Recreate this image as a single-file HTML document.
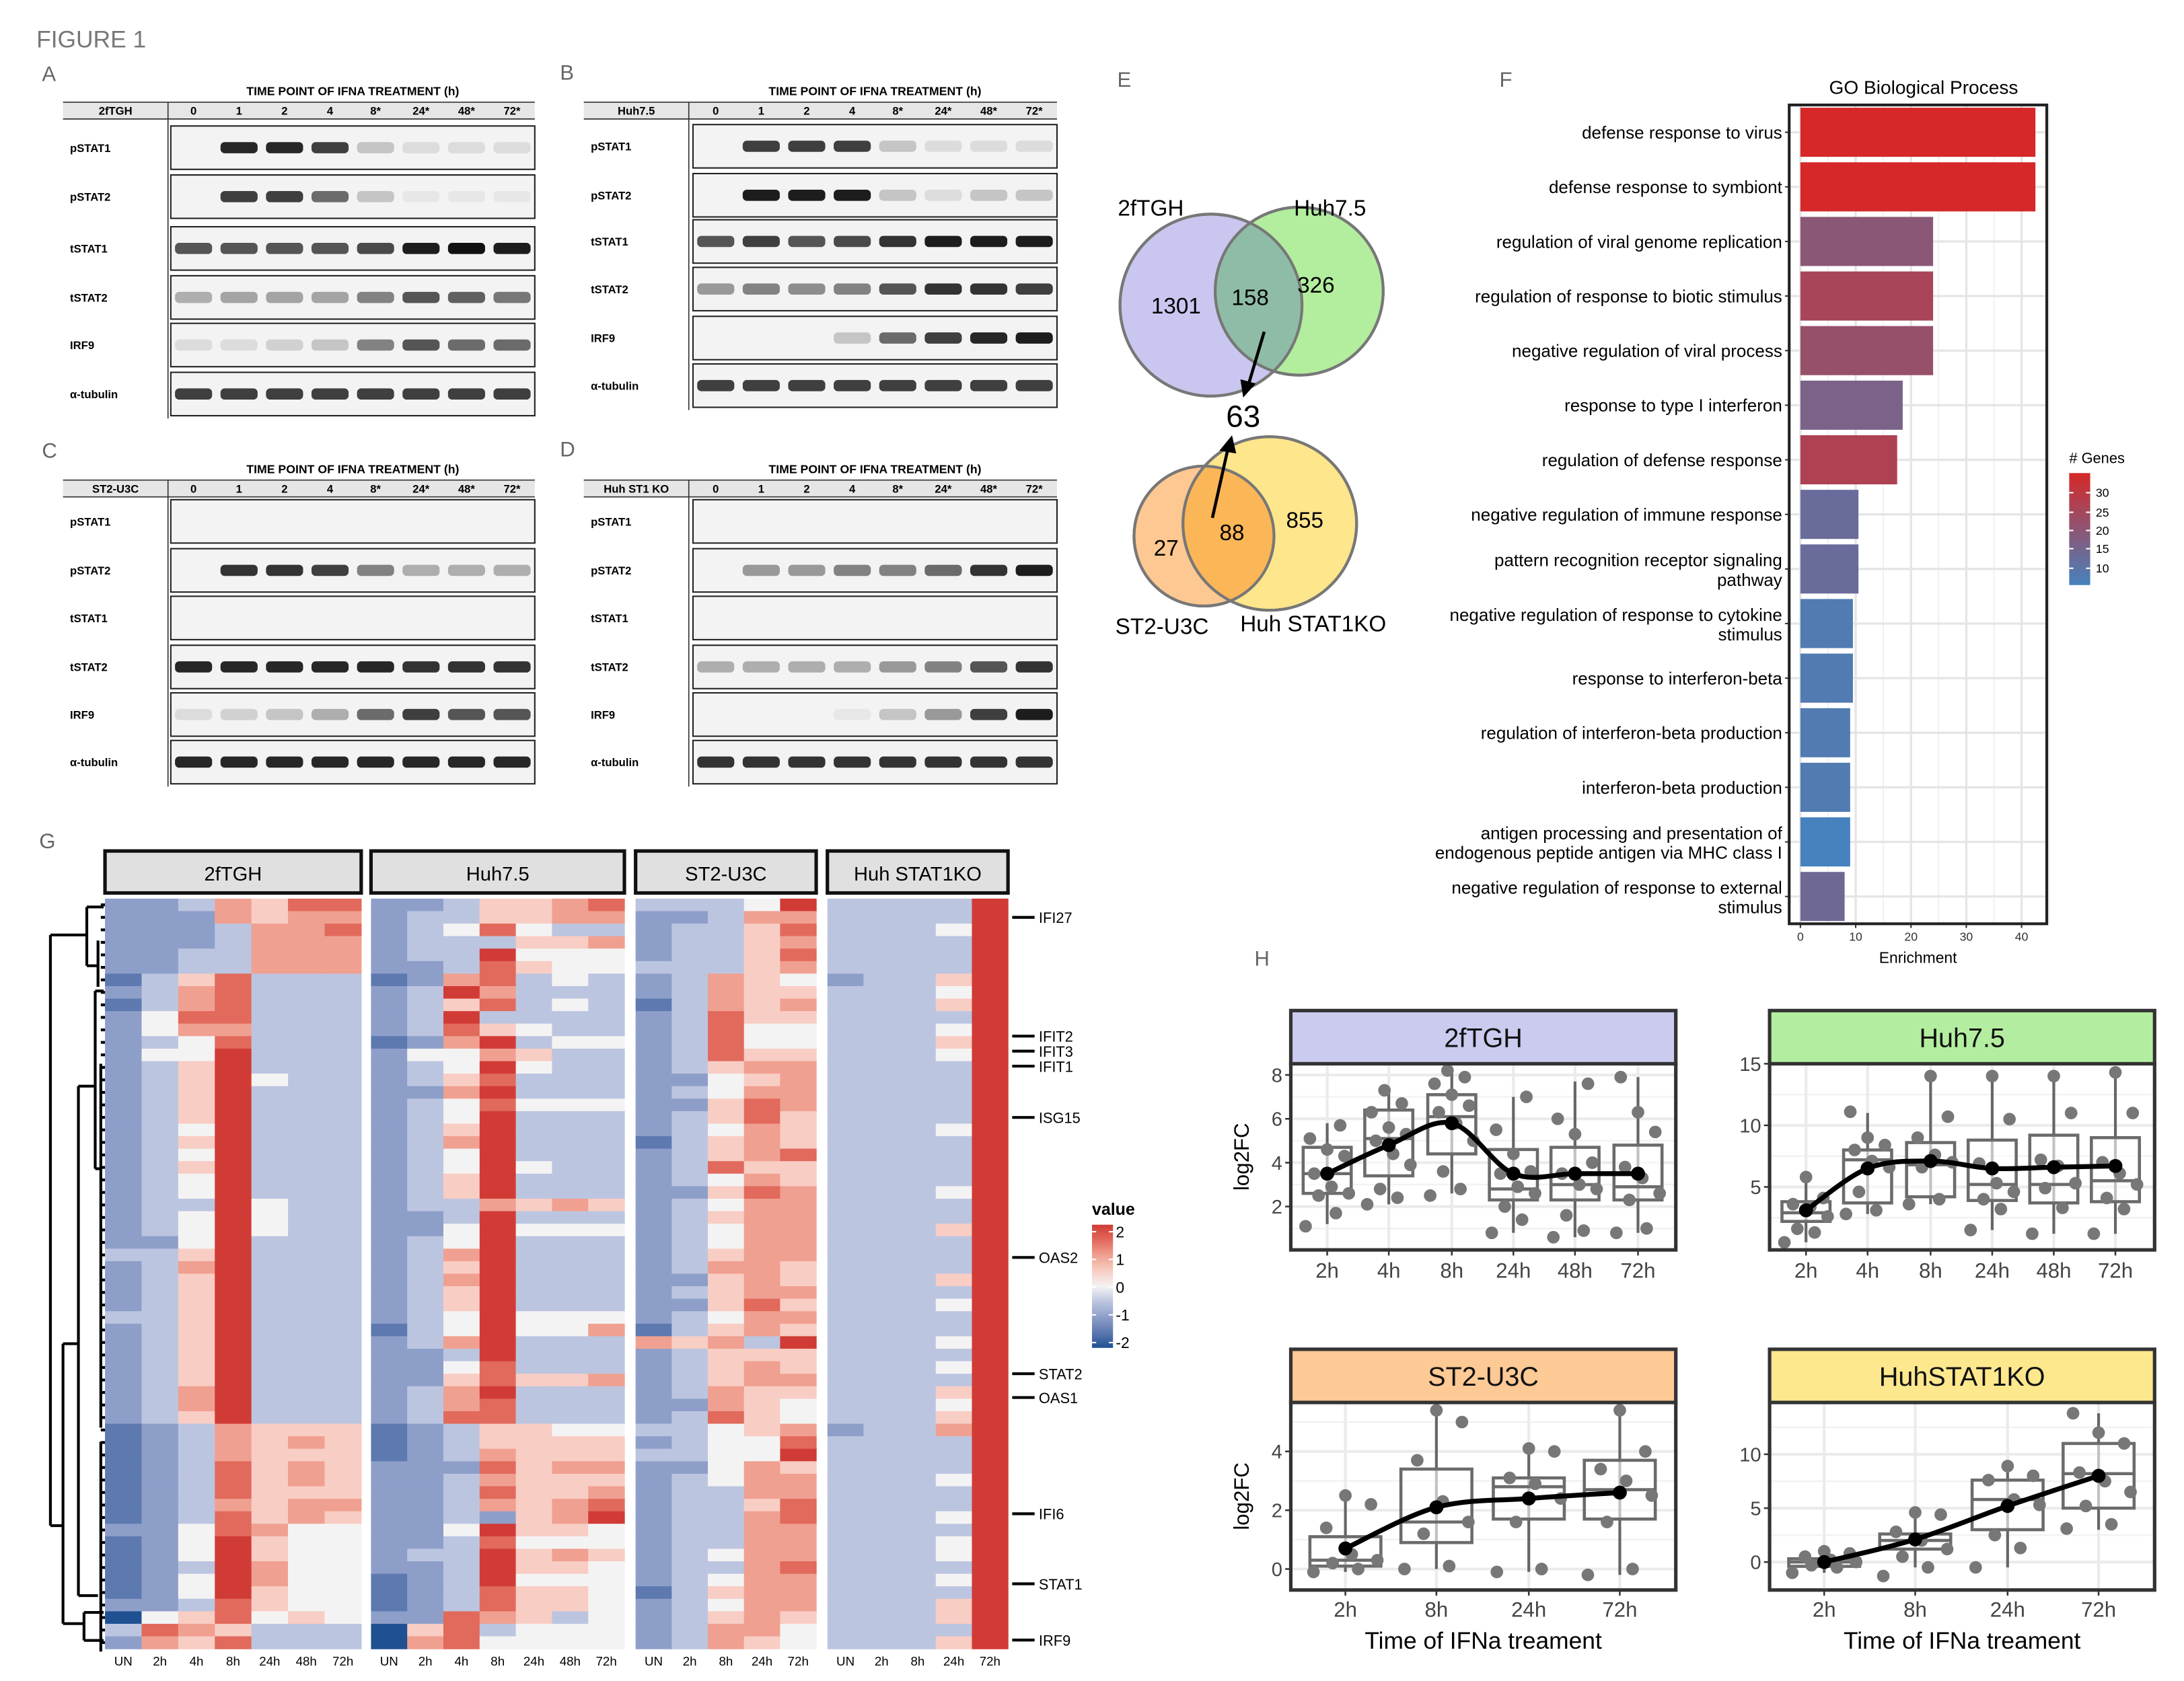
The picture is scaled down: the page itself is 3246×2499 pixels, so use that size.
<!DOCTYPE html>
<html><head><meta charset="utf-8"><style>
html,body{margin:0;padding:0;background:#fff}
svg{display:block}
text{font-family:"Liberation Sans Narrow","Liberation Sans",sans-serif}
</style></head><body>
<svg id="fig" width="3246" height="2499" viewBox="0 0 1560 1201" xmlns="http://www.w3.org/2000/svg">
<text x="26" y="34" font-size="17" fill="#777">FIGURE 1</text>
<g id="blots"></g>
<g id="venn"></g>
<g id="go"></g>
<g id="heat"></g>
<g id="box"></g>
</svg>
<script>
// ---------- DATA ----------
const laneLabels=["0","1","2","4","8*","24*","48*","72*"];
const blotRows=["pSTAT1","pSTAT2","tSTAT1","tSTAT2","IRF9","α-tubulin"];
const blotA=[[0,.9,.9,.8,.2,.1,.1,.1],[0,.8,.8,.6,.2,.05,.05,.05],[.7,.7,.7,.7,.75,.95,1,.95],[.3,.35,.35,.35,.5,.7,.65,.55],[.1,.1,.15,.2,.5,.7,.6,.6],[.8,.8,.8,.8,.8,.8,.8,.8]];
const blotB=[[0,.8,.8,.8,.2,.1,.1,.1],[0,.95,.95,.95,.2,.1,.2,.2],[.7,.8,.7,.75,.85,.95,.95,.95],[.4,.5,.45,.5,.7,.85,.85,.8],[0,0,0,.2,.6,.8,.9,.95],[.8,.8,.8,.8,.8,.8,.8,.8]];
const blotC=[[0,0,0,0,0,0,0,0],[0,.85,.85,.8,.5,.3,.3,.3],[0,0,0,0,0,0,0,0],[.9,.9,.9,.9,.9,.85,.85,.85],[.1,.15,.2,.3,.6,.8,.7,.7],[.9,.9,.9,.9,.9,.9,.9,.9]];
const blotD=[[0,0,0,0,0,0,0,0],[0,.4,.4,.5,.5,.6,.85,.95],[0,0,0,0,0,0,0,0],[.3,.3,.3,.3,.4,.5,.7,.85],[0,0,0,.05,.2,.4,.8,.95],[.85,.85,.85,.85,.85,.85,.85,.85]];

const goTerms=[["defense response to virus"],["defense response to symbiont"],["regulation of viral genome replication"],["regulation of response to biotic stimulus"],["negative regulation of viral process"],["response to type I interferon"],["regulation of defense response"],["negative regulation of immune response"],["pattern recognition receptor signaling","pathway"],["negative regulation of response to cytokine","stimulus"],["response to interferon-beta"],["regulation of interferon-beta production"],["interferon-beta production"],["antigen processing and presentation of","endogenous peptide antigen via MHC class I"],["negative regulation of response to external","stimulus"]];
const goEnrich=[42.5,42.5,24,24,24,18.5,17.5,10.5,10.5,9.5,9.5,9,9,9,8];
const goGenes=[33,33,20,25,22,17,26,14,14,10,10,10,10,8,15];
const goTicks=[0,10,20,30,40];

const heatGroups=["2fTGH","Huh7.5","ST2-U3C","Huh STAT1KO"];
const heatCols=[["UN","2h","4h","8h","24h","48h","72h"],["UN","2h","4h","8h","24h","48h","72h"],["UN","2h","8h","24h","72h"],["UN","2h","8h","24h","72h"]];
const heatRows=["2236577|2235567|33348|33338","2226566|2335566|22366|33338","2223667|2347433|23357|33348","2223666|2333556|23356|33338","2233666|2338444|23357|33338","2233666|2237544|33356|33338","1357333|1267343|23654|23358","2367333|2386333|23655|33348","1367333|2357343|13656|33358","2477333|2383333|23755|33338","2466333|2375433|23744|33348","2347333|1268344|23744|33358","2448333|2446533|23755|33348","2358333|2348433|23566|33338","2358433|2357333|22456|33338","2358333|2268333|23466|33338","2358333|2347444|22576|33338","2358333|2348333|23575|33338","2348333|2358333|23465|33348","2358333|2368333|13565|33338","2348333|2348333|23567|33338","2358333|2348433|23755|33338","2348333|2358333|23465|33338","2348333|2358333|22576|33348","2338433|2336565|23466|33338","2348433|2238333|23566|33338","2348433|2248444|23466|33358","2248333|2348333|23466|33338","3358333|2368333|23566|33338","2368333|2358333|23665|33338","2358333|2368333|22565|33358","2358333|2358333|23566|33338","2358333|2358333|22575|33348","3358333|2348444|23466|33338","2358333|1348446|13565|33338","2358333|2368333|65638|33348","2358333|2238333|23555|33338","2358333|2247333|23565|33348","2358333|2257556|23566|33338","2368333|2368333|23655|33358","2368333|2367333|22654|33348","2358333|2377333|23754|33358","1236555|1235544|33456|23368","1236565|1235555|23447|33338","1236555|1236555|33448|33338","1237565|2227566|22465|33338","1237565|2236555|23466|33348","1237555|2237556|23366|33338","1236566|2236567|23357|33338","1237565|2232568|23367|33348","2247644|2248554|23366|33338","1248544|2237444|23366|33348","1248544|2338565|23466|33348","1238644|2238554|23367|33338","1248644|1238444|23466|33348","1248544|1237554|13566|33338","2237544|1237554|23466|33358","0457454|2276534|23565|33358","3765333|0573444|23664|33338","2657333|0674444|23654|33358"];
const geneLabels=["IFI27","IFIT2","IFIT3","IFIT1","ISG15","OAS2","STAT2","OAS1","IFI6","STAT1","IRF9"];
const geneRowIdx=[1,10.5,11.7,12.9,17,28.2,37.5,39.4,48.7,54.3,58.8];

const boxTitles=["2fTGH","Huh7.5","ST2-U3C","HuhSTAT1KO"];
const boxCats=[["2h","4h","8h","24h","48h","72h"],["2h","4h","8h","24h","48h","72h"],["2h","8h","24h","72h"],["2h","8h","24h","72h"]];
const boxStats=[
 [[2.6,3.5,4.7,1.2,5.8],[3.4,5.1,6.4,2.1,7.3],[4.4,6.1,7.1,2.6,8.2],[2.3,2.8,4.6,0.8,7.0],[2.3,3.0,4.7,0.6,7.7],[2.3,2.9,4.8,0.8,7.9]],
 [[2.2,2.9,3.8,0.5,5.8],[3.7,7.2,8.0,2.8,11],[4.2,6.8,8.6,3.6,14],[3.9,5.2,8.8,1.5,14],[3.7,5.2,9.2,1.2,14],[3.8,5.5,9.0,1.2,14.3]],
 [[0.1,0.3,1.1,-0.1,2.3],[0.9,1.6,3.4,0,5.4],[1.7,2.8,3.1,-0.1,4.1],[1.7,2.7,3.7,-0.2,5.4]],
 [[-0.4,0,0.3,-1,1],[1.2,2,2.6,-0.5,4.5],[3,5.8,7.6,-0.5,8.9],[5,8.2,11,3,13.8]]];
const boxMeans=[[3.5,4.8,5.8,3.5,3.5,3.5],[3.1,6.5,7.1,6.5,6.6,6.7],[0.7,2.1,2.4,2.6],[0,2.1,5.2,8]];
const boxPoints=[
 [[1.1,1.7,2.5,2.6,2.9,3.5,4.3,4.6,5.1,5.7],[2.1,2.4,2.8,3.9,4.4,5.0,5.3,5.6,6.3,6.7,7.3],[2.5,2.8,3.6,5.0,5.8,6.3,6.6,7.1,7.6,7.9,8.2],[0.8,1.4,2.0,2.6,2.9,3.5,3.6,4.4,5.5,7.0],[0.6,0.9,1.6,2.8,3.0,3.5,4.0,5.3,6.0,7.6],[0.8,1.0,2.3,2.6,3.3,3.8,5.4,6.3,7.9]],
 [[0.5,1.3,1.6,2.6,3.4,3.6,4.1,5.8],[2.8,3.1,4.6,6.6,7.1,8.0,8.4,9.0,11.1],[3.6,4.0,6.6,7.0,7.6,9.0,10.7,14.0],[1.5,3.2,4.0,4.6,5.3,6.9,10.5,14.0],[1.2,3.3,4.9,5.3,6.7,7.2,11.0,14.0],[1.2,3.2,4.1,5.2,6.1,7.0,11.0,14.3]],
 [[-0.1,0,0.2,0.3,0.5,1.4,2.2,2.5],[0,0.1,1.2,1.6,2.3,3.7,5.0,5.4],[-0.1,0,1.6,2.4,2.9,3.1,4.0,4.1],[-0.2,0,1.6,2.5,3.0,3.4,4.0,5.4]],
 [[-1,-0.5,-0.3,0,0.2,0.5,0.8,1],[-1.3,-0.5,0.5,1.2,2.0,2.8,4.4,4.6],[-0.5,1.3,2.5,5.3,5.8,7.6,8.0,8.9],[3.1,3.5,5.2,6.5,7.5,8.3,11.0,12.0,13.8]]];

// ---------- HELPERS ----------
const NS="http://www.w3.org/2000/svg";
function mk(parent,tag,attrs,txt){const e=document.createElementNS(NS,tag);for(const k in attrs)e.setAttribute(k,attrs[k]);if(txt!==undefined)e.textContent=txt;parent.appendChild(e);return e;}
const $=id=>document.getElementById(id);

// ---------- BLOTS ----------
(function(){
 const g=$("blots");
 const panels=[
  {L:"A",lx:30,ly:58,title:"2fTGH",x0:45,lab:120,bx:122,bw:260,hy:73,rows:[90,125,162,197,231,266],rh:31,d:blotA},
  {L:"B",lx:400,ly:57,title:"Huh7.5",x0:417,lab:492,bx:495,bw:260,hy:73,rows:[89,124,157,191,226,260],rh:31,d:blotB},
  {L:"C",lx:30,ly:327,title:"ST2-U3C",x0:45,lab:120,bx:122,bw:260,hy:343,rows:[357,392,426,461,495,529],rh:31,d:blotC},
  {L:"D",lx:400,ly:326,title:"Huh ST1 KO",x0:417,lab:492,bx:495,bw:260,hy:343,rows:[357,392,426,461,495,529],rh:31,d:blotD}];
 panels.forEach(p=>{
  const pg=mk(g,"g",{});
  
  
  mk(pg,"text",{x:p.lx,y:p.ly,"font-size":15,fill:"#666"},p.L);
  mk(pg,"text",{x:p.bx+130,y:p.hy-5,"font-size":8.5,"font-weight":"bold","text-anchor":"middle"},"TIME POINT OF IFNA TREATMENT (h)");
  mk(pg,"rect",{x:p.x0,y:p.hy,width:p.bx+p.bw-p.x0,height:12,fill:"#e6e6e6"});
  mk(pg,"line",{x1:p.x0,x2:p.bx+p.bw,y1:p.hy,y2:p.hy,stroke:"#333","stroke-width":0.8});
  mk(pg,"line",{x1:p.x0,x2:p.bx+p.bw,y1:p.hy+12,y2:p.hy+12,stroke:"#333","stroke-width":0.8});
  mk(pg,"line",{x1:p.lab,x2:p.lab,y1:p.hy,y2:p.rows[5]+p.rh+2,stroke:"#333","stroke-width":0.8});
  mk(pg,"text",{x:(p.x0+p.lab)/2,y:p.hy+9,"font-size":8,"font-weight":"bold","text-anchor":"middle"},p.title);
  const lw=p.bw/8;
  laneLabels.forEach((l,i)=>mk(pg,"text",{x:p.bx+lw*(i+.5),y:p.hy+9,"font-size":8,"font-weight":"bold","text-anchor":"middle"},l));
  blotRows.forEach((r,ri)=>{
   const y=p.rows[ri];
   mk(pg,"text",{x:p.x0+5,y:y+p.rh/2+3,"font-size":8,"font-weight":"bold"},r);
   const box=mk(pg,"rect",{x:p.bx,y:y,width:p.bw,height:p.rh,fill:"#f3f3f3",stroke:"#222","stroke-width":1});
   
   
   p.d[ri].forEach((v,li)=>{
    if(v<=0)return;
    const b=mk(pg,"rect",{x:p.bx+lw*li+3,y:y+p.rh/2-4,width:lw-6,height:8,rx:3,fill:"#111","fill-opacity":v});
    
    
   });
  });
 });
})();

// ---------- VENN ----------
(function(){
 const g=$("venn");
 mk(g,"text",{x:798,y:62,"font-size":15,fill:"#666"},"E");
 const defs=mk(g,"defs",{});
 const c1=mk(defs,"clipPath",{id:"c1"});mk(c1,"circle",{cx:865,cy:218,r:65});
 const c2=mk(defs,"clipPath",{id:"c2"});mk(c2,"circle",{cx:860,cy:383,r:50});
 mk(g,"circle",{cx:865,cy:218,r:65,fill:"#c9c7ef",stroke:"#777","stroke-width":2});
 mk(g,"circle",{cx:928,cy:208,r:60,fill:"#b2ee9e",stroke:"#777","stroke-width":2});
 mk(g,"circle",{cx:928,cy:208,r:60,fill:"#8fbca7","clip-path":"url(#c1)"});
 mk(g,"circle",{cx:865,cy:218,r:65,fill:"none",stroke:"#777","stroke-width":2});
 mk(g,"circle",{cx:928,cy:208,r:60,fill:"none",stroke:"#777","stroke-width":2});
 mk(g,"circle",{cx:860,cy:383,r:50,fill:"#fdc891",stroke:"#777","stroke-width":2});
 mk(g,"circle",{cx:907,cy:374,r:62,fill:"#fde68b",stroke:"#777","stroke-width":2});
 mk(g,"circle",{cx:907,cy:374,r:62,fill:"#fbb658","clip-path":"url(#c2)"});
 mk(g,"circle",{cx:860,cy:383,r:50,fill:"none",stroke:"#777","stroke-width":2});
 mk(g,"circle",{cx:907,cy:374,r:62,fill:"none",stroke:"#777","stroke-width":2});
 const t=(x,y,s,str,n)=>{const e=mk(g,"text",{x:x,y:y,"font-size":s,"text-anchor":"middle"},str);};
 t(822,154,16,"2fTGH","venn-label-2ftgh");t(950,154,16,"Huh7.5","venn-label-huh75");
 t(840,224,16,"1301","venn-count");t(893,218,16,"158","venn-count");t(940,209,16,"326","venn-count");
 t(888,305,22,"63","venn-count-63");
 t(833,397,16,"27","venn-count");t(880,386,16,"88","venn-count");t(932,377,16,"855","venn-count");
 t(830,453,16,"ST2-U3C","venn-label-st2");t(938,451,16,"Huh STAT1KO","venn-label-ko");
 mk(g,"line",{x1:903,y1:237,x2:892,y2:274,stroke:"#000","stroke-width":2.2});
 mk(g,"polygon",{points:"888,284 886,271 897,274",fill:"#000"});
 mk(g,"line",{x1:866,y1:370,x2:877,y2:321,stroke:"#000","stroke-width":2.2});
 mk(g,"polygon",{points:"880,311 871,322 883,324",fill:"#000"});
})();

// ---------- GO BAR CHART ----------
(function(){
 const g=$("go");
 mk(g,"text",{x:1071,y:62,"font-size":15,fill:"#666"},"F");
 const px0=1278,px1=1462,py0=75,py1=660;
 const xs=v=>1286+v*3.95;
 const n=goTerms.length,step=(py1-py0)/n;
 const col=gn=>{const t=Math.max(0,Math.min(1,(gn-8)/(33-8)));const a=[70,130,190],b=[214,40,40];
  const m=[0,1,2].map(i=>Math.round(a[i]+(b[i]-a[i])*t));return "rgb("+m.join(",")+")";};
 mk(g,"text",{x:1374,y:67,"font-size":13.5,"text-anchor":"middle"},"GO Biological Process");
 mk(g,"rect",{x:px0,y:py0,width:px1-px0,height:py1-py0,fill:"#fff"});
 goTicks.forEach(v=>{mk(g,"line",{x1:xs(v),x2:xs(v),y1:py0,y2:py1,stroke:"#e5e5e5","stroke-width":1.6});
  mk(g,"line",{x1:xs(v+5),x2:xs(v+5),y1:py0,y2:py1,stroke:"#eee","stroke-width":0.8});
  mk(g,"text",{x:xs(v),y:py1+12,"font-size":8.5,"text-anchor":"middle",fill:"#333"},v);
  mk(g,"line",{x1:xs(v),x2:xs(v),y1:py1,y2:py1+3,stroke:"#333"});});
 goTerms.forEach((t,i)=>{
  const cy=py0+step*(i+.5);
  mk(g,"line",{x1:px0,x2:px1,y1:cy,y2:cy,stroke:"#e5e5e5","stroke-width":1.6});
  const r=mk(g,"rect",{x:xs(0),y:cy-step*0.45,width:xs(goEnrich[i])-xs(0),height:step*0.9,fill:col(goGenes[i])});
  
  
  if(t.length===1)mk(g,"text",{x:1273,y:cy+4.5,"font-size":12.5,"text-anchor":"end"},t[0]);
  else{mk(g,"text",{x:1273,y:cy-2,"font-size":12.5,"text-anchor":"end"},t[0]);mk(g,"text",{x:1273,y:cy+12,"font-size":12.5,"text-anchor":"end"},t[1]);}
  mk(g,"line",{x1:px0-3,x2:px0,y1:cy,y2:cy,stroke:"#333"});
 });
 mk(g,"rect",{x:px0,y:py0,width:px1-px0,height:py1-py0,fill:"none",stroke:"#222","stroke-width":2});
 mk(g,"text",{x:1370,y:688,"font-size":11,"text-anchor":"middle"},"Enrichment");
 // legend
 mk(g,"text",{x:1478,y:331,"font-size":10.5},"# Genes");
 const lg=mk(defs2=g,"defs",{});const gr=mk(lg,"linearGradient",{id:"gg",x1:0,y1:0,x2:0,y2:1});
 mk(gr,"stop",{offset:0,"stop-color":col(33)});mk(gr,"stop",{offset:1,"stop-color":col(8)});
 mk(g,"rect",{x:1478,y:338,width:15,height:80,fill:"url(#gg)"});
 [[30,352],[25,366],[20,379],[15,392],[10,406]].forEach(a=>{mk(g,"text",{x:1497,y:a[1]+3,"font-size":8.5},a[0]);
  mk(g,"line",{x1:1478,x2:1481,y1:a[1],y2:a[1],stroke:"#fff"});mk(g,"line",{x1:1490,x2:1493,y1:a[1],y2:a[1],stroke:"#fff"});});
})();

// ---------- HEATMAP ----------
(function(){
 const g=$("heat");
 mk(g,"text",{x:28,y:606,"font-size":15,fill:"#666"},"G");
 const pan=[[75,258],[265,446],[454,583],[591,720]];
 const y0=642,y1=1178,nr=heatRows.length,rh=(y1-y0)/nr;
 const pal=["#1f5192","#5d79b0","#8d9fc9","#bcc5e0","#f4f3f3","#f8cdc4","#f0a090","#e16a5c","#d13b36"];
 heatGroups.forEach((name,pi)=>{
  const [a,b]=pan[pi];
  const s=mk(g,"rect",{x:a,y:608,width:b-a,height:30,fill:"#e0e0e0",stroke:"#111","stroke-width":2.5});
  
  
  mk(g,"text",{x:(a+b)/2,y:629,"font-size":14,"text-anchor":"middle"},name);
  const cols=heatCols[pi],cw=(b-a)/cols.length;
  cols.forEach((c,ci)=>mk(g,"text",{x:a+cw*(ci+.5),y:1190,"font-size":9,"text-anchor":"middle"},c));
  heatRows.forEach((row,ri)=>{
   const seg=row.split("|")[pi];
   for(let ci=0;ci<cols.length;ci++){
    const cell=mk(g,"rect",{x:a+cw*ci,y:y0+rh*ri,width:cw+0.3,height:rh+0.3,fill:pal[+seg[ci]]});
    
    
   }
  });
 });
 geneLabels.forEach((l,i)=>{const y=y0+rh*(geneRowIdx[i]+.5);
  mk(g,"line",{x1:723,x2:739,y1:y,y2:y,stroke:"#000","stroke-width":2});
  const t=mk(g,"text",{x:742,y:y+4,"font-size":10.5},l);
  
  });
 // dendrogram (simplified)
 const L=(x1,y1,x2,y2)=>mk(g,"line",{x1:x1,y1:y1,x2:x2,y2:y2,stroke:"#000","stroke-width":2});
 const yy=r=>y0+rh*r;
 L(36,668,36,1090);L(36,668,62,668);L(36,1090,45,1090);
 L(62,648,62,690);L(62,648,74,648);L(62,690,70,690);L(70,672,70,705);
 L(45,960,45,1160);L(45,960,56,960);L(45,1160,60,1160);
 L(56,776,56,1140);L(56,776,68,776);L(56,1140,70,1140);
 L(68,708,68,835);L(68,835,72,835);L(68,708,74,708);
 L(72,760,72,1020);L(72,1030,72,1180);
 L(60,1152,60,1172);L(60,1152,74,1152);L(60,1172,74,1172);
 for(let r=0;r<nr;r+=1){L(72,yy(r+.5),75,yy(r+.5));}
 // legend
 mk(g,"text",{x:780,y:868,"font-size":12,"font-weight":"bold"},"value");
 const d=mk(g,"defs",{});const gr=mk(d,"linearGradient",{id:"hg",x1:0,y1:0,x2:0,y2:1});
 pal.slice().reverse().forEach((c,i)=>mk(gr,"stop",{offset:i/8,"stop-color":c}));
 mk(g,"rect",{x:780,y:875,width:15,height:88,fill:"url(#hg)"});
 ["2","1","0","-1","-2"].forEach((v,i)=>{const y=880+i*19.8;mk(g,"text",{x:797,y:y+4,"font-size":11},v);
  mk(g,"line",{x1:780,x2:783,y1:y,y2:y,stroke:"#fff"});mk(g,"line",{x1:792,x2:795,y1:y,y2:y,stroke:"#fff"});});
})();

// ---------- BOX PLOTS ----------
(function(){
 const g=$("box");
 mk(g,"text",{x:896,y:690,"font-size":15,fill:"#666"},"H");
 const P=[
  {x0:922,x1:1197,hy:722,py0:760,py1:893,fill:"#cbcbf0",ym:v=>768+(8-v)*15.67,ticks:[2,4,6,8],xs:[948,992,1037,1081,1125,1170],ylab:true,xt:913},
  {x0:1264,x1:1539,hy:722,py0:760,py1:893,fill:"#b3eea0",ym:v=>760+(15-v)*8.8,ticks:[5,10,15],xs:[1290,1334,1379,1423,1467,1511],ylab:false,xt:913},
  {x0:922,x1:1197,hy:964,py0:1002,py1:1136,fill:"#fdc995",ym:v=>1121-v*21,ticks:[0,2,4],xs:[961,1026,1092,1157],ylab:true,xt:1155,xl:true},
  {x0:1264,x1:1539,hy:964,py0:1002,py1:1136,fill:"#fde88e",ym:v=>1116-v*7.7,ticks:[0,5,10],xs:[1303,1368,1434,1499],ylab:false,xt:1155,xl:true}];
 P.forEach((p,pi)=>{
  const pg=mk(g,"g",{});
  
  
  mk(pg,"rect",{x:p.x0,y:p.py0,width:p.x1-p.x0,height:p.py1-p.py0,fill:"#fff"});
  // grid
  p.ticks.forEach((t,i)=>{mk(pg,"line",{x1:p.x0,x2:p.x1,y1:p.ym(t),y2:p.ym(t),stroke:"#ebebeb","stroke-width":2});
   const h=t+(p.ticks[1]-p.ticks[0])/2;if(p.ym(h)>p.py0)mk(pg,"line",{x1:p.x0,x2:p.x1,y1:p.ym(h),y2:p.ym(h),stroke:"#f2f2f2","stroke-width":1.2});
   const l=p.ym(t-(p.ticks[1]-p.ticks[0])/2);if(i===0&&l<p.py1)mk(pg,"line",{x1:p.x0,x2:p.x1,y1:l,y2:l,stroke:"#f2f2f2","stroke-width":1.2});
   mk(pg,"text",{x:p.x0-6,y:p.ym(t)+5,"font-size":14,"text-anchor":"end",fill:"#444"},t);
   mk(pg,"line",{x1:p.x0-4,x2:p.x0,y1:p.ym(t),y2:p.ym(t),stroke:"#333","stroke-width":1.2});});
  p.xs.forEach((x,i)=>{mk(pg,"line",{x1:x,x2:x,y1:p.py0,y2:p.py1,stroke:"#ebebeb","stroke-width":2});
   mk(pg,"line",{x1:x,x2:x,y1:p.py1,y2:p.py1+4,stroke:"#333","stroke-width":1.2});
   mk(pg,"text",{x:x,y:p.xt,"font-size":15,"text-anchor":"middle",fill:"#444"},boxCats[pi][i]);});
  const bw=(p.xs[1]-p.xs[0])*0.78;
  boxStats[pi].forEach((s,i)=>{const x=p.xs[i];
   mk(pg,"line",{x1:x,x2:x,y1:p.ym(s[4]),y2:p.ym(s[3]),stroke:"#666","stroke-width":2});
   const b=mk(pg,"rect",{x:x-bw/2,y:p.ym(s[2]),width:bw,height:p.ym(s[0])-p.ym(s[2]),fill:"#fff","fill-opacity":0.6,stroke:"#6b6b6b","stroke-width":2.2});
   
   
   mk(pg,"line",{x1:x-bw/2,x2:x+bw/2,y1:p.ym(s[1]),y2:p.ym(s[1]),stroke:"#6b6b6b","stroke-width":2.2});
   boxPoints[pi][i].forEach((v,k)=>{const off=((k*7)%11-5)/5*bw*0.45;
    const c=mk(pg,"circle",{cx:x+off,cy:p.ym(v),r:4.5,fill:"#777"});
    
    });
  });
  // smooth mean line (catmull-rom)
  const pts=boxMeans[pi].map((m,i)=>[p.xs[i],p.ym(m)]);
  let d="M"+pts[0][0]+","+pts[0][1];
  for(let i=0;i<pts.length-1;i++){const p0=pts[Math.max(0,i-1)],p1=pts[i],p2=pts[i+1],p3=pts[Math.min(pts.length-1,i+2)];
   d+=" C"+(p1[0]+(p2[0]-p0[0])/6)+","+(p1[1]+(p2[1]-p0[1])/6)+" "+(p2[0]-(p3[0]-p1[0])/6)+","+(p2[1]-(p3[1]-p1[1])/6)+" "+p2[0]+","+p2[1];}
  const ln=mk(pg,"path",{d:d,fill:"none",stroke:"#000","stroke-width":3.5});
  
  
  pts.forEach(q=>mk(pg,"circle",{cx:q[0],cy:q[1],r:5,fill:"#000"}));
  mk(pg,"rect",{x:p.x0,y:p.py0,width:p.x1-p.x0,height:p.py1-p.py0,fill:"none",stroke:"#333","stroke-width":2.5});
  const h=mk(pg,"rect",{x:p.x0,y:p.hy,width:p.x1-p.x0,height:p.py0-p.hy,fill:p.fill,stroke:"#333","stroke-width":2.5});
  
  
  mk(pg,"text",{x:(p.x0+p.x1)/2,y:p.hy+26,"font-size":19,"text-anchor":"middle",fill:"#111"},boxTitles[pi]);
  if(p.ylab){const yc=(p.py0+p.py1)/2;mk(pg,"text",{x:892,y:yc,"font-size":15,"text-anchor":"middle",transform:"rotate(-90 892 "+yc+")"},"log2FC");}
  if(p.xl)mk(pg,"text",{x:(p.x0+p.x1)/2,y:1178,"font-size":17,"text-anchor":"middle"},"Time of IFNa treament");
 });
})();
</script>
</body></html>
